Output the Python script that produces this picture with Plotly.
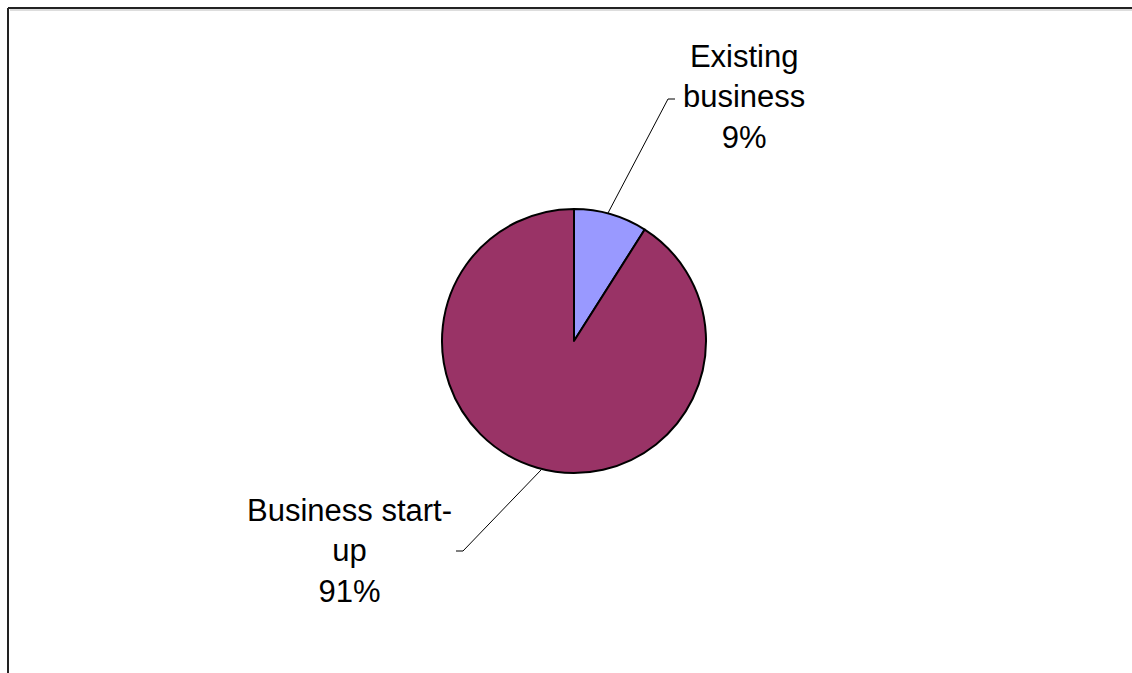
import plotly.graph_objects as go

# Data
categories = ["Existing business", "Business start-up"]
values = [9, 91]
label_lines = ["Existing<br>business<br>9%", "Business start-<br>up<br>91%"]
colors = ["#9999FF", "#993366"]

W, H = 1132, 673


def px(x):
    return x / W


def py(y):
    return 1 - y / H


cx, cy, r = 574, 341, 132

fig = go.Figure(
    go.Pie(
        labels=categories,
        values=values,
        sort=False,
        direction="clockwise",
        rotation=0,
        marker=dict(colors=colors, line=dict(color="black", width=2)),
        textinfo="none",
        hoverinfo="label+percent",
        showlegend=False,
        domain=dict(x=[px(cx - r), px(cx + r)], y=[py(cy + r), py(cy - r)]),
    )
)

shapes = [
    # chart frame (top and left edges visible)
    dict(type="line", xref="paper", yref="paper", x0=px(8), y0=py(8), x1=px(1140), y1=py(8),
         line=dict(color="#222222", width=2)),
    dict(type="line", xref="paper", yref="paper", x0=px(8), y0=py(8), x1=px(8), y1=py(680),
         line=dict(color="#222222", width=2)),
    dict(type="line", xref="paper", yref="paper", x0=px(10), y0=py(10), x1=px(1140), y1=py(10),
         line=dict(color="#BBBBBB", width=1)),
    # leader lines
    dict(type="path", xref="paper", yref="paper",
         path=f"M {px(608)},{py(213)} L {px(668)},{py(99)} L {px(675)},{py(99)}",
         line=dict(color="black", width=1)),
    dict(type="path", xref="paper", yref="paper",
         path=f"M {px(541)},{py(470)} L {px(463)},{py(551)} L {px(456)},{py(551)}",
         line=dict(color="black", width=1)),
]

annotations = [
    dict(text=label_lines[0], xref="paper", yref="paper", x=px(744), y=py(97),
         xanchor="center", yanchor="middle", showarrow=False, align="center",
         font=dict(family="Liberation Sans, Arial", size=31, color="black")),
    dict(text=label_lines[1], xref="paper", yref="paper", x=px(349), y=py(551),
         xanchor="center", yanchor="middle", showarrow=False, align="center",
         font=dict(family="Liberation Sans, Arial", size=31, color="black")),
]

fig.update_layout(
    width=W,
    height=H,
    margin=dict(l=0, r=0, t=0, b=0),
    paper_bgcolor="white",
    plot_bgcolor="white",
    shapes=shapes,
    annotations=annotations,
)

fig.write_html("out.html", config={"displayModeBar": False})
